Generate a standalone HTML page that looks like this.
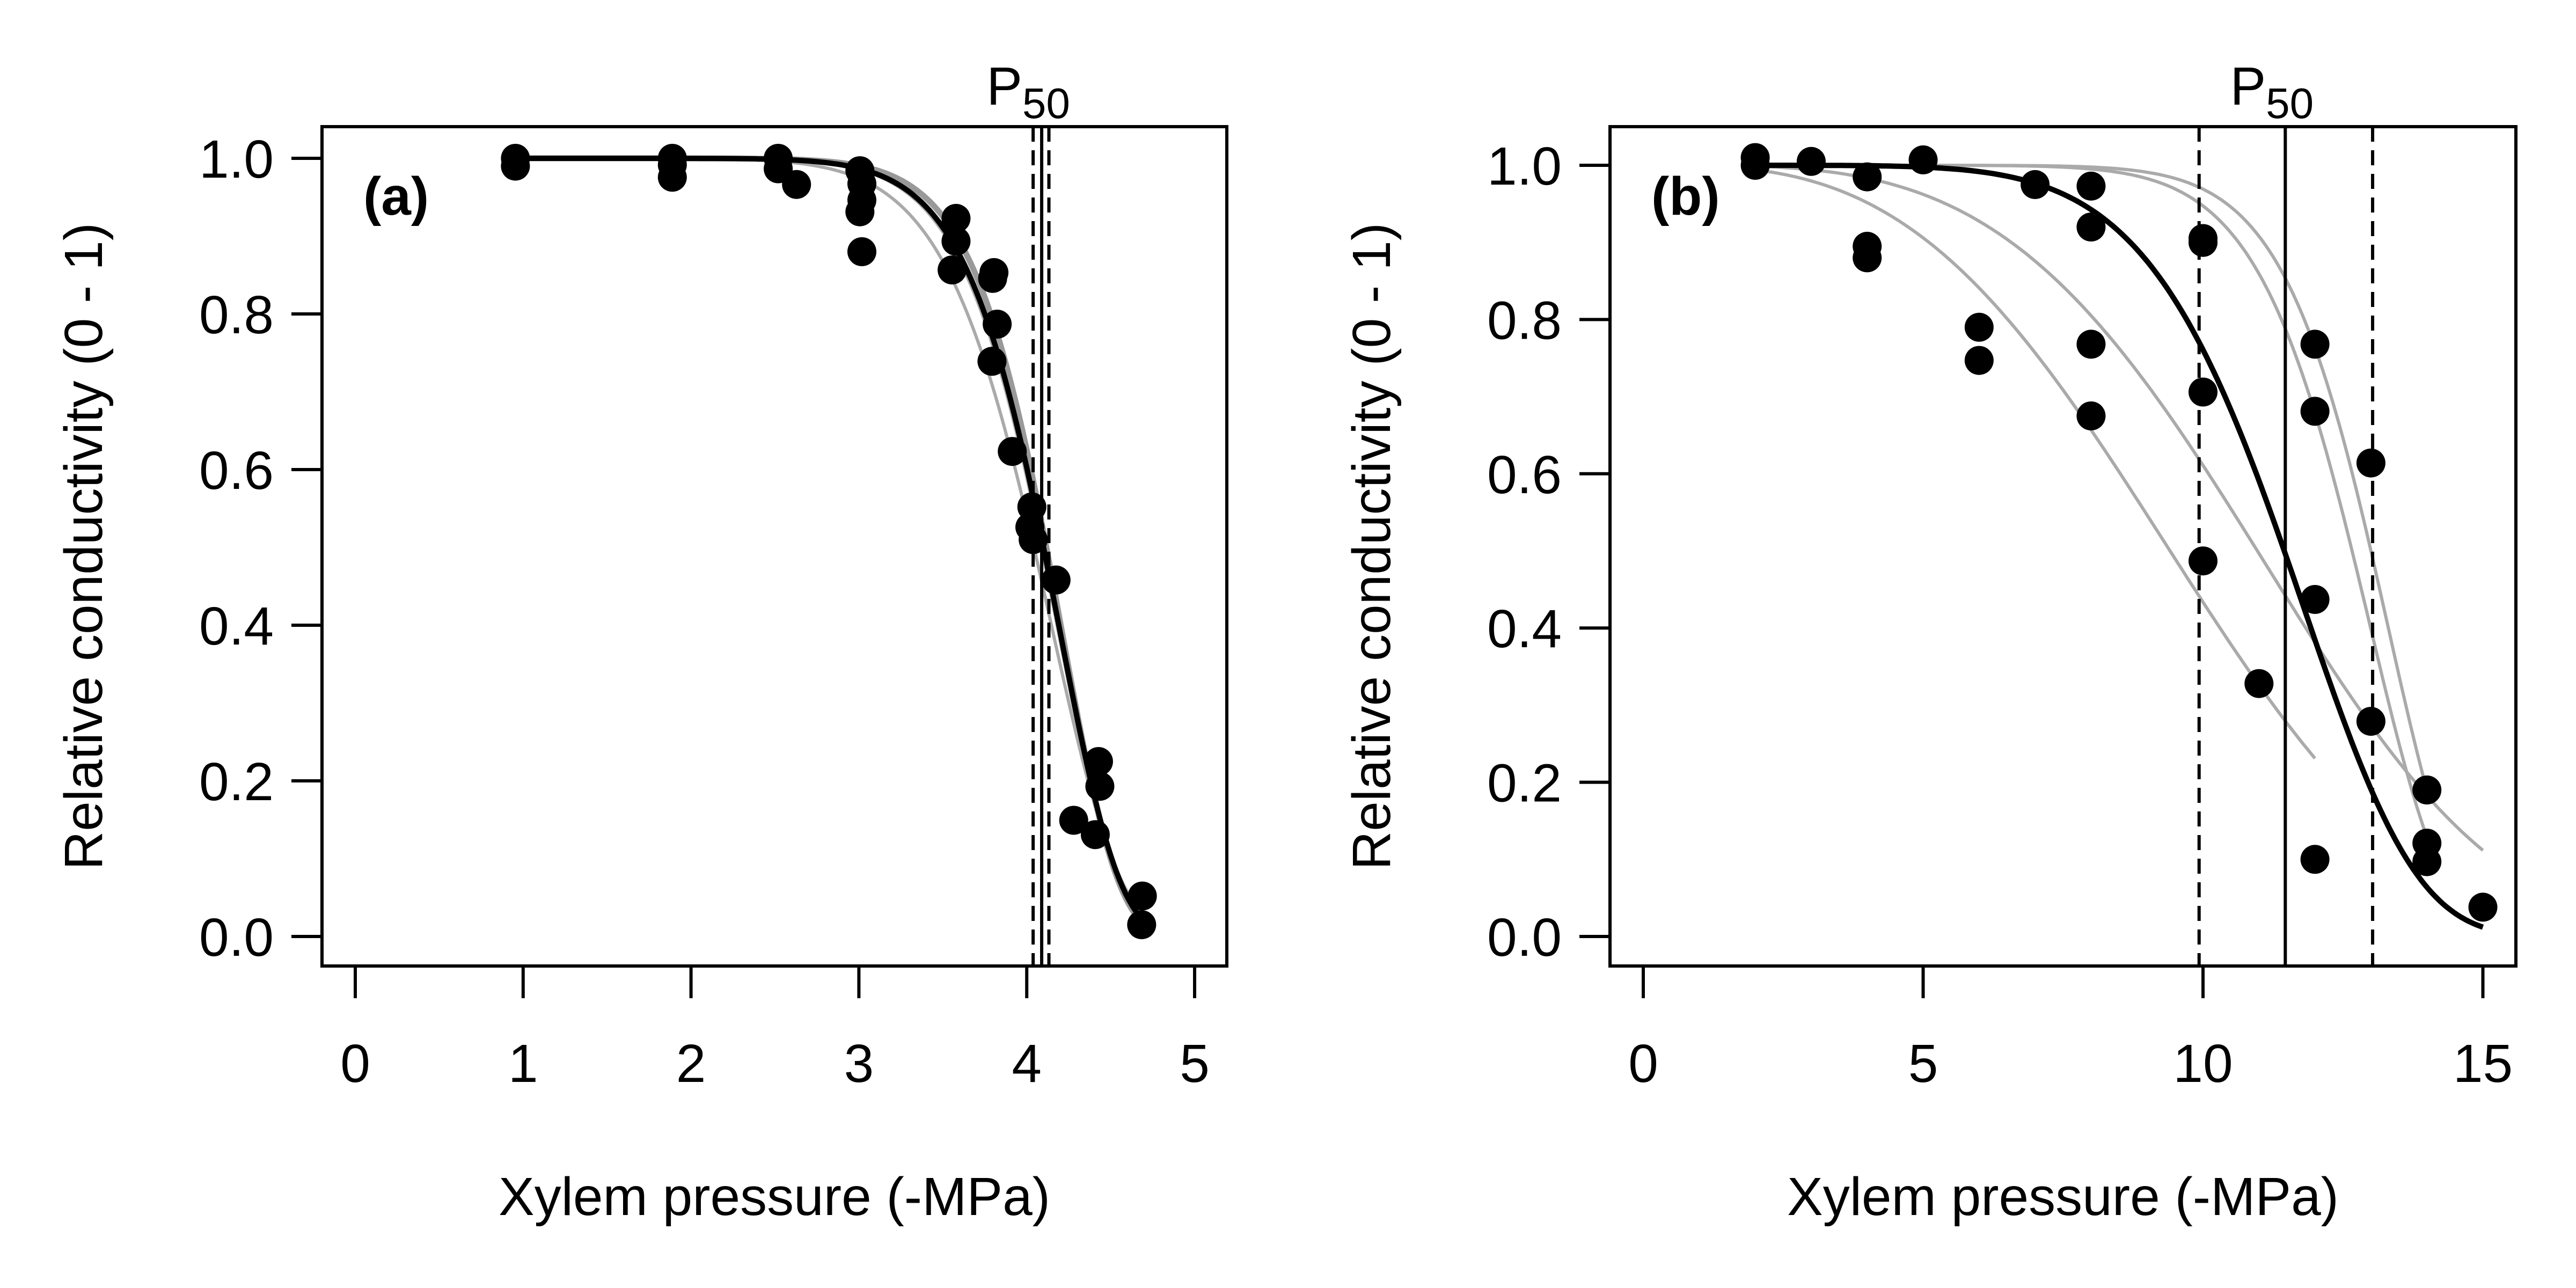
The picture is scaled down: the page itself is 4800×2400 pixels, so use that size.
<!DOCTYPE html>
<html><head><meta charset="utf-8"><style>html,body{margin:0;padding:0;background:#fff}svg{display:block}</style></head>
<body>
<svg id="s" xmlns="http://www.w3.org/2000/svg" width="4800" height="2400" viewBox="0 0 4800 2400" font-family="Liberation Sans, Arial, sans-serif">
<rect width="4800" height="2400" fill="#fff"/>
<g id="g"></g>
</svg>
<script>
var g=document.getElementById('g'),h='';
function W(x,b,c){return Math.exp(-Math.pow(x/b,c));}
function curve(P,b,c,x0,x1,col,w){var d='';for(var i=0;i<=200;i++){var x=x0+(x1-x0)*i/200;d+=(i?'L':'M')+P.X(x).toFixed(1)+','+P.Y(W(x,b,c)).toFixed(1);}h+='<path d="'+d+'" fill="none" stroke="'+col+'" stroke-width="'+w+'" stroke-linejoin="round"/>';}
function panel(P,xt,lab){
 var L=P.L,R=P.R,T=236,B=1800;
 h+='<rect x="'+L+'" y="'+T+'" width="'+(R-L)+'" height="'+(B-T)+'" fill="none" stroke="#000" stroke-width="6"/>';
 for(var i=0;i<=5;i++){var v=i*0.2,y=P.Y(v);h+='<line x1="'+(L-57)+'" y1="'+y+'" x2="'+L+'" y2="'+y+'" stroke="#000" stroke-width="6"/>';h+='<text x="'+(L-90)+'" y="'+(y+36)+'" font-size="100" text-anchor="end">'+v.toFixed(1)+'</text>';}
 xt.forEach(function(v){var x=P.X(v);h+='<line x1="'+x+'" y1="'+B+'" x2="'+x+'" y2="'+(B+60)+'" stroke="#000" stroke-width="6"/>';h+='<text x="'+x+'" y="'+2016+'" font-size="100" text-anchor="middle">'+v+'</text>';});
 h+='<text x="'+(L+77)+'" y="400" font-size="100" font-weight="bold">'+lab+'</text>';
 h+='<text x="'+((L+R)/2)+'" y="2264" font-size="100" text-anchor="middle">Xylem pressure (-MPa)</text>';
 h+='<text transform="translate('+(L-410)+','+((T+B)/2)+') rotate(-90)" font-size="100" text-anchor="middle">Relative conductivity (0 - 1)</text>';
}
var A={L:600,R:2286,X:function(x){return 662+312.8*x},Y:function(y){return 1745-1450*y}};
var Bp={L:3000,R:4688,X:function(x){return 3062+104.3*x},Y:function(y){return 1745-1437*y}};
panel(A,[0,1,2,3,4,5],'(a)');
panel(Bp,[0,5,10,15],'(b)');
function vl(P,x,dash,w){var X=P.X(x);h+='<line x1="'+X+'" y1="236" x2="'+X+'" y2="1800" stroke="#000" stroke-width="'+w+'"'+(dash?' stroke-dasharray="28,16"':'')+'/>';}
function p50(P,x){h+='<text x="'+(P.X(x)-25)+'" y="195" font-size="100" text-anchor="middle">P<tspan font-size="80" dy="25">50</tspan></text>';}
curve(A,4.18,11,1,4.7,'#aaa',6);
curve(A,4.23,13.5,1,4.7,'#999',11);
curve(A,4.21,12.5,1,4.7,'#aaa',6);
vl(A,4.089,false,6);vl(A,4.038,true,6);vl(A,4.132,true,6);p50(A,4.089);
curve(A,4.22,12.7,1,4.7,'#000',10);
var pa=[[378,121],[378,133],[618,121],[618,131],[618,150],[780,121],[780,137],[808,161],[905,140],[908,160],[908,185],[905,203],[908,264],[1052,213],[1052,248],[1046,292],[1110,296],[1108,305],[1115,375],[1107,432],[1138,570],[1168,655],[1165,686],[1170,705],[1205,767],[1270,1045],[1272,1083],[1232,1135],[1265,1157],[1337,1251],[1336,1295]];
pa.forEach(function(p){var x=(p[0]-133)/256.8,y=(1313-p[1])/1192;h+='<circle cx="'+A.X(x).toFixed(1)+'" cy="'+A.Y(y).toFixed(1)+'" r="27" fill="#000"/>';});
curve(Bp,10.6,3.08,2,12,'#aaa',6);
curve(Bp,12.12,3.68,2,15,'#aaa',6);
curve(Bp,13.1,10.8,2,14,'#aaa',6);
curve(Bp,13.41,11.8,2,14,'#aaa',6);
vl(Bp,11.47,false,6);vl(Bp,9.93,true,6);vl(Bp,13.03,true,6);p50(Bp,11.47);
curve(Bp,12.08,6.86,2,15,'#000',10);
var pb=[[2,1.0],[2,1.01],[3,1.005],[4,0.985],[4,0.895],[4,0.88],[5,1.007],[6,0.79],[6,0.747],[7,0.975],[8,0.973],[8,0.92],[8,0.768],[8,0.675],[10,0.905],[10,0.9],[10,0.706],[10,0.487],[11,0.328],[12,0.768],[12,0.681],[12,0.437],[12,0.1],[13,0.614],[13,0.279],[14,0.19],[14,0.121],[14,0.097],[15,0.038]];
pb.forEach(function(p){h+='<circle cx="'+Bp.X(p[0]).toFixed(1)+'" cy="'+Bp.Y(p[1]).toFixed(1)+'" r="27" fill="#000"/>';});
g.innerHTML=h;
</script>
</body></html>
